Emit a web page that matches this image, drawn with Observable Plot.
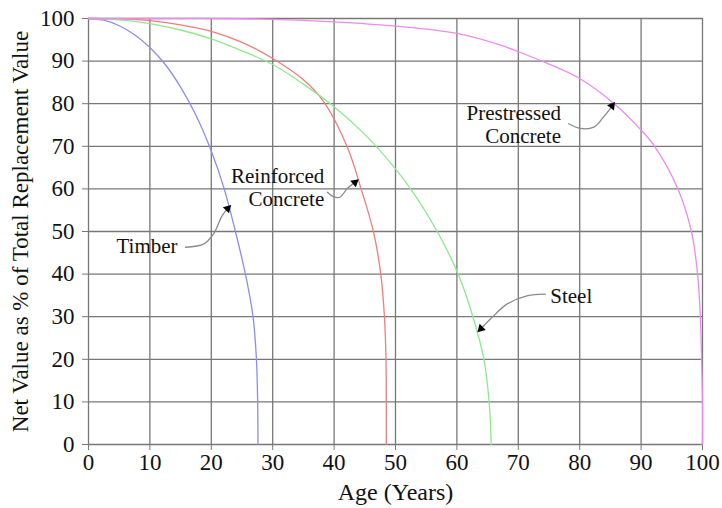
<!DOCTYPE html>
<html>
<head>
<meta charset="utf-8">
<script src="https://cdn.jsdelivr.net/npm/d3@7"></script>
<script src="https://cdn.jsdelivr.net/npm/@observablehq/plot@0.6"></script>
<style>
  html, body { margin: 0; padding: 0; background: #fff; }
  #chart svg { display: block; }
</style>
</head>
<body>
<div id="chart"></div>
<script>
// ---- Data ----
const xTicks = [0, 10, 20, 30, 40, 50, 60, 70, 80, 90, 100];
const yTicks = [0, 10, 20, 30, 40, 50, 60, 70, 80, 90, 100];

const materials = ["Timber", "Reinforced Concrete", "Steel", "Prestressed Concrete"];
const materialColors = ["#8c8cf2", "#f27c7c", "#8ee88e", "#ee8aee"];

const timberAge   = [0, 2.5, 5, 7.5, 10, 12.5, 15, 17.5, 20, 22.1, 24.1, 25.7, 26.8, 27.35, 27.55, 27.6];
const timberValue = [100, 99.6, 98.3, 96.2, 93.2, 89.2, 83.9, 77.3, 68.9, 60, 49, 39, 30, 20, 10, 0];

const reinforcedAge   = [0, 5, 10, 15, 20, 25, 30, 35, 38.3, 42.1, 44.4, 46.4, 47.6, 48.2, 48.45, 48.5, 48.5];
const reinforcedValue = [100, 99.9, 99.5, 98.5, 97, 94.4, 90.6, 85.6, 80.5, 70, 60, 50, 40, 30, 20, 10, 0];

const steelAge   = [0, 5, 10, 15, 20, 25, 30, 35, 40, 45, 50, 53, 56.8, 60.2, 62.6, 64.4, 65.25, 65.6];
const steelValue = [100, 99.7, 98.8, 97.3, 95.2, 92.4, 89.2, 84.6, 79.3, 72.8, 64.7, 58.9, 50, 40, 30, 20, 10, 0];

const prestressedAge   = [0, 10, 20, 30, 40, 50, 60, 67, 70, 75, 80, 85.6, 90, 92.2, 96, 98.2, 99.2, 99.65, 99.85, 100, 100];
const prestressedValue = [100, 100, 100, 99.8, 99.2, 98.2, 96.5, 93.8, 92.2, 89.3, 85.9, 80, 73.8, 70, 60, 50, 40, 30, 20, 10, 0];

// annotation labels
const labelNames  = ["Timber", "Reinforced\nConcrete", "Prestressed\nConcrete", "Steel"];
const labelAge    = [14.5, 38.4, 76.95, 75.2];
const labelValue  = [46.7, 60.5, 75.2, 35.0];
const labelAlign  = ["end", "end", "end", "start"];

// annotation leader curves (age, value) and arrowheads
const leaderTimberAge = [15.8, 18.8, 20.4, 21.8, 23.0];
const leaderTimberVal = [46.3, 47.1, 49.5, 53.8, 55.9];
const leaderReinfAge  = [38.9, 40.0, 41.0, 42.1, 43.8];
const leaderReinfVal  = [59.2, 58.1, 58.1, 60.0, 62.0];
const leaderPrestAge  = [78.2, 80.1, 82.3, 83.9, 85.6];
const leaderPrestVal  = [75.3, 74.2, 74.5, 76.9, 80.0];
const leaderSteelAge  = [74.4, 71.4, 68.2, 65.5, 63.6];
const leaderSteelVal  = [35.3, 34.9, 33.0, 29.5, 26.7];

const headAge   = [22.67, 43.39, 85.26, 63.91];
const headValue = [55.4, 61.53, 79.48, 27.2];
const headAngle = [45, 50, 37, 225];

// ---- Build tables ----
function rowsOf(name, ages, vals) {
  return ages.map((a, i) => ({ material: name, age: a, value: vals[i] }));
}
const curves = [
  ...rowsOf("Timber", timberAge, timberValue),
  ...rowsOf("Reinforced Concrete", reinforcedAge, reinforcedValue),
  ...rowsOf("Steel", steelAge, steelValue),
  ...rowsOf("Prestressed Concrete", prestressedAge, prestressedValue)
];
const leaders = [
  ...rowsOf("Timber", leaderTimberAge, leaderTimberVal),
  ...rowsOf("Reinforced Concrete", leaderReinfAge, leaderReinfVal),
  ...rowsOf("Prestressed Concrete", leaderPrestAge, leaderPrestVal),
  ...rowsOf("Steel", leaderSteelAge, leaderSteelVal)
];
const labels = labelNames.map((t, i) => ({ text: t, age: labelAge[i], value: labelValue[i], align: labelAlign[i] }));
const heads = headAge.map((a, i) => ({ age: a, value: headValue[i], angle: headAngle[i] }));

const serif = "'Liberation Serif', 'Times New Roman', 'DejaVu Serif', serif";

const chart = Plot.plot({
  width: 722,
  height: 508,
  marginLeft: 88,
  marginRight: 20,
  marginTop: 18,
  marginBottom: 64,
  style: { fontFamily: serif, fontSize: "23px", background: "#fff", color: "#111" },
  x: { domain: [0, 100] },
  y: { domain: [0, 100] },
  color: { domain: materials, range: materialColors },
  marks: [
    Plot.gridX(xTicks, { stroke: "#777", strokeOpacity: 1, strokeWidth: 1.3 }),
    Plot.gridY(yTicks, { stroke: "#777", strokeOpacity: 1, strokeWidth: 1.3 }),
    Plot.axisX(xTicks, {
      tickSize: 6, tickPadding: 3, stroke: "#777", fill: "#111",
      fontSize: 23, label: null
    }),
    Plot.axisX({
      ticks: [], tickSize: 0, fontSize: 24, fill: "#111",
      label: "Age (Years)", labelAnchor: "center", labelOffset: 55, labelArrow: false
    }),
    Plot.axisY(yTicks, {
      tickSize: 6, tickPadding: 8, stroke: "#777", fill: "#111",
      fontSize: 23, label: null
    }),
    Plot.axisY({
      ticks: [], tickSize: 0, fontSize: 23, fill: "#111",
      label: "Net Value as % of Total Replacement Value", labelAnchor: "center", labelOffset: 77, labelArrow: false
    }),
    Plot.line(curves, { x: "age", y: "value", z: "material", stroke: "material", strokeWidth: 1.3, curve: "catmull-rom" }),
    Plot.line(leaders, { x: "age", y: "value", z: "material", stroke: "#8a8a8a", strokeWidth: 1.3, curve: "catmull-rom" }),
    Plot.dot(heads, { x: "age", y: "value", rotate: "angle", symbol: "triangle", r: 3.2, fill: "#000", stroke: "none" }),
    Plot.text(labels.filter(d => d.align === "end"), {
      x: "age", y: "value", text: "text", textAnchor: "end", lineAnchor: "middle",
      fontSize: 21, lineHeight: 1.1, fill: "#111"
    }),
    Plot.text(labels.filter(d => d.align === "start"), {
      x: "age", y: "value", text: "text", textAnchor: "start", lineAnchor: "middle",
      fontSize: 21, lineHeight: 1.1, fill: "#111"
    })
  ]
});
document.getElementById("chart").appendChild(chart);
</script>
</body>
</html>
